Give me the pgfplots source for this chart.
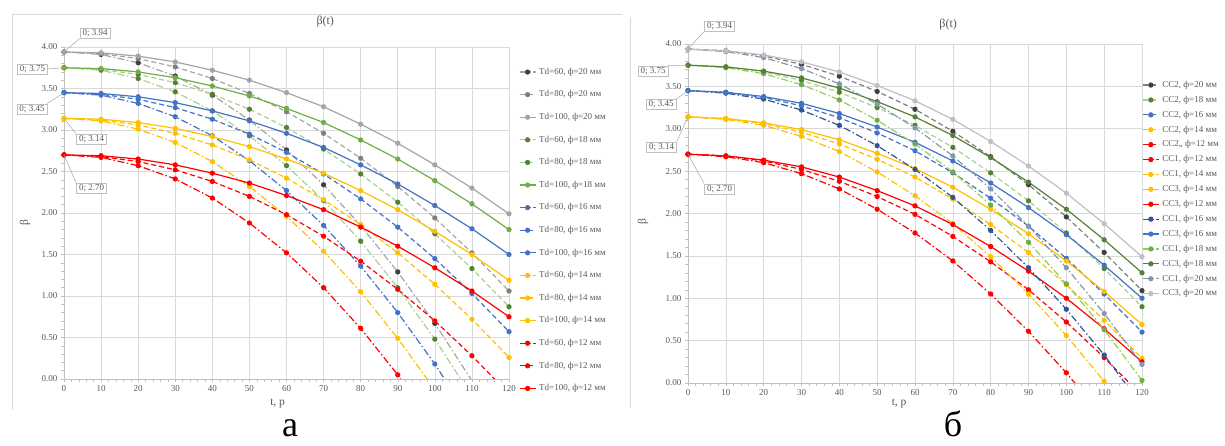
\documentclass[border=0pt]{standalone}
\usepackage{fontspec}
\setmainfont{Liberation Serif}
\usepackage{pgfplots}
\pgfplotsset{compat=1.18}
\definecolor{txt}{HTML}{595959}
\definecolor{gA}{HTML}{A5A5A5}
\definecolor{gD}{HTML}{7F7F7F}
\definecolor{gK}{HTML}{404040}
\definecolor{gL}{HTML}{BFBFBF}
\definecolor{gB}{HTML}{8497B0}
\definecolor{grn}{HTML}{70AD47}
\definecolor{grL}{HTML}{A9D18E}
\definecolor{grD}{HTML}{548235}
\definecolor{grM}{HTML}{92D050}
\definecolor{blu}{HTML}{4472C4}
\definecolor{bluD}{HTML}{2F5597}
\definecolor{yel}{HTML}{FFC000}
\definecolor{rd}{HTML}{FF0000}
\definecolor{gridc}{HTML}{D9D9D9}
\definecolor{axl}{HTML}{BFBFBF}
\newcommand\fs{\fontsize{9}{10}\selectfont}
\tikzset{
 dd/.style={dash pattern=on 7pt off 2.5pt on 1.5pt off 2.5pt},
 ds/.style={dash pattern=on 5pt off 3pt},
 cbox/.style={draw=gL, line width=0.6pt, fill=white, text=txt, font=\fs, inner xsep=2.5pt, inner ysep=1.5pt},
 lead/.style={draw=gA, line width=0.5pt},
}
\pgfplotsset{
 legend image code/.code={\draw[#1, mark repeat=2, mark phase=2] plot coordinates {(0pt,0pt)(8pt,0pt)(16pt,0pt)};},
 S/.style n args={3}{color=#1, #2, line width=1.2pt, mark=*, mark size=2pt, mark options={solid, draw=#3, fill=#3}},
 base/.style={
   scale only axis, xmin=0, xmax=120, ymin=0, ymax=4,
   xtick={0,10,...,120}, ytick={0,0.5,...,4},
   minor x tick num=4, minor y tick num=4,
   axis lines*=left,
   axis line style={draw=axl, line width=0.6pt},
   grid=major, major grid style={draw=gridc, line width=0.6pt},
   tick align=outside, major tick length=3pt, minor tick length=3pt,
   tick style={draw=axl, line width=0.5pt},
   tick label style={font=\fs, text=txt},
   /pgf/number format/assume math mode=true,
   label style={font=\fontsize{11.5}{12}\selectfont, text=txt},
   title style={font=\fontsize{12}{13}\selectfont, text=txt},
   legend cell align=left,
   yticklabel style={/pgf/number format/.cd, fixed, fixed zerofill, precision=2},
 },
}
\begin{document}
\begin{tikzpicture}
\useasboundingbox (0,0) rectangle (1225pt,446pt);
\draw[draw=gridc, line width=0.8pt] (12.7pt,36pt) -- (12.7pt,432pt) -- (622pt,432pt);
\draw[draw=gridc, line width=0.8pt] (630pt,38pt) -- (630pt,429pt);
% ---------------- left panel
\begin{axis}[base, at={(64pt,67pt)}, anchor=south west, width=445pt, height=332pt,
  title={β(t)}, title style={at={(axis description cs:0.587,1)}, anchor=center, yshift=19pt},
  xlabel={t, р}, xlabel style={at={(axis description cs:0.48,0)}, anchor=center, yshift=-24pt},
  ylabel={β}, ylabel style={at={(axis description cs:0,0.47)}, anchor=center, yshift=39pt},
  legend style={at={(axis description cs:1.022,0.938)}, anchor=north west, draw=none, fill=none,
    inner sep=0pt, row sep=14.1pt, nodes={inner xsep=3pt, inner ysep=0pt, text height=6.5pt, text depth=2pt, font=\fs, text=txt}},
]
\addplot[S={gA}{dd}{gK}] coordinates {(0,3.94)(10,3.91)(20,3.81)(30,3.65)(40,3.42)(50,3.12)(60,2.76)(70,2.34)(80,1.85)(90,1.29)(100,0.67)(110,-0.02)};
\addlegendentry{Td=60, ф=20 мм}
\addplot[S={gA}{ds}{gD}] coordinates {(0,3.94)(10,3.92)(20,3.86)(30,3.76)(40,3.62)(50,3.44)(60,3.22)(70,2.96)(80,2.66)(90,2.32)(100,1.94)(110,1.52)(120,1.06)};
\addlegendentry{Td=80, ф=20 мм}
\addplot[S={gA}{solid}{gA}] coordinates {(0,3.94)(10,3.93)(20,3.89)(30,3.82)(40,3.72)(50,3.60)(60,3.45)(70,3.28)(80,3.07)(90,2.84)(100,2.58)(110,2.30)(120,1.99)};
\addlegendentry{Td=100, ф=20 мм}
\addplot[S={grL}{dd}{grD}] coordinates {(0,3.75)(10,3.72)(20,3.62)(30,3.46)(40,3.23)(50,2.93)(60,2.57)(70,2.15)(80,1.66)(90,1.10)(100,0.48)(110,-0.21)};
\addlegendentry{Td=60, ф=18 мм}
\addplot[S={grL}{ds}{grD}] coordinates {(0,3.75)(10,3.73)(20,3.67)(30,3.57)(40,3.43)(50,3.25)(60,3.03)(70,2.77)(80,2.47)(90,2.13)(100,1.75)(110,1.33)(120,0.87)};
\addlegendentry{Td=80, ф=18 мм}
\addplot[S={grn}{solid}{grn}] coordinates {(0,3.75)(10,3.74)(20,3.70)(30,3.63)(40,3.53)(50,3.41)(60,3.26)(70,3.09)(80,2.88)(90,2.65)(100,2.39)(110,2.11)(120,1.80)};
\addlegendentry{Td=100, ф=18 мм}
\addplot[S={blu}{dd}{blu}] coordinates {(0,3.45)(10,3.42)(20,3.32)(30,3.16)(40,2.93)(50,2.63)(60,2.27)(70,1.85)(80,1.36)(90,0.80)(100,0.18)(110,-0.51)};
\addlegendentry{Td=60, ф=16 мм}
\addplot[S={blu}{ds}{blu}] coordinates {(0,3.45)(10,3.43)(20,3.37)(30,3.27)(40,3.13)(50,2.95)(60,2.73)(70,2.47)(80,2.17)(90,1.83)(100,1.45)(110,1.03)(120,0.57)};
\addlegendentry{Td=80, ф=16 мм}
\addplot[S={blu}{solid}{blu}] coordinates {(0,3.45)(10,3.44)(20,3.40)(30,3.33)(40,3.23)(50,3.11)(60,2.96)(70,2.79)(80,2.58)(90,2.35)(100,2.09)(110,1.81)(120,1.50)};
\addlegendentry{Td=100, ф=16 мм}
\addplot[S={yel}{dd}{yel}] coordinates {(0,3.14)(10,3.11)(20,3.01)(30,2.85)(40,2.62)(50,2.32)(60,1.96)(70,1.54)(80,1.05)(90,0.49)(100,-0.13)};
\addlegendentry{Td=60, ф=14 мм}
\addplot[S={yel}{ds}{yel}] coordinates {(0,3.14)(10,3.12)(20,3.06)(30,2.96)(40,2.82)(50,2.64)(60,2.42)(70,2.16)(80,1.86)(90,1.52)(100,1.14)(110,0.72)(120,0.26)};
\addlegendentry{Td=80, ф=14 мм}
\addplot[S={yel}{solid}{yel}] coordinates {(0,3.14)(10,3.13)(20,3.09)(30,3.02)(40,2.92)(50,2.80)(60,2.65)(70,2.48)(80,2.27)(90,2.04)(100,1.78)(110,1.50)(120,1.19)};
\addlegendentry{Td=100, ф=14 мм}
\addplot[S={rd}{dd}{rd}] coordinates {(0,2.70)(10,2.67)(20,2.57)(30,2.41)(40,2.18)(50,1.88)(60,1.52)(70,1.10)(80,0.61)(90,0.05)(100,-0.57)};
\addlegendentry{Td=60, ф=12 мм}
\addplot[S={rd}{ds}{rd}] coordinates {(0,2.70)(10,2.68)(20,2.62)(30,2.52)(40,2.38)(50,2.20)(60,1.98)(70,1.72)(80,1.42)(90,1.08)(100,0.70)(110,0.28)(120,-0.18)};
\addlegendentry{Td=80, ф=12 мм}
\addplot[S={rd}{solid}{rd}] coordinates {(0,2.70)(10,2.69)(20,2.65)(30,2.58)(40,2.48)(50,2.36)(60,2.21)(70,2.04)(80,1.83)(90,1.60)(100,1.34)(110,1.06)(120,0.75)};
\addlegendentry{Td=100, ф=12 мм}
\coordinate (a1) at (axis cs:0,3.94);
\coordinate (a2) at (axis cs:0,3.75);
\coordinate (a3) at (axis cs:0,3.45);
\coordinate (a4) at (axis cs:0,3.14);
\coordinate (a5) at (axis cs:0,2.70);
\end{axis}
% ---------------- right panel
\begin{axis}[base, at={(688pt,63pt)}, anchor=south west, width=454pt, height=339pt,
  title={β(t)}, title style={at={(axis description cs:0.573,1)}, anchor=center, yshift=13pt},
  xlabel={t, р}, xlabel style={at={(axis description cs:0.465,0)}, anchor=center, yshift=-20pt},
  ylabel={β}, ylabel style={at={(axis description cs:0,0.475)}, anchor=center, yshift=45pt},
  legend style={at={(axis description cs:1.0,0.892)}, anchor=north west, draw=none, fill=none,
    inner sep=0pt, row sep=6.4pt, nodes={inner xsep=3pt, inner ysep=0pt, text height=6.5pt, text depth=2pt, font=\fs, text=txt}},
]
\addplot[S={gD}{ds}{gK}] coordinates {(0,3.94)(10,3.92)(20,3.86)(30,3.76)(40,3.62)(50,3.44)(60,3.23)(70,2.97)(80,2.67)(90,2.34)(100,1.96)(110,1.54)(120,1.09)};
\addlegendentry{СС2, ф=20 мм}
\addplot[S={grL}{ds}{grD}] coordinates {(0,3.75)(10,3.73)(20,3.67)(30,3.57)(40,3.43)(50,3.25)(60,3.04)(70,2.78)(80,2.48)(90,2.15)(100,1.77)(110,1.35)(120,0.90)};
\addlegendentry{СС2, ф=18 мм}
\addplot[S={blu}{ds}{blu}] coordinates {(0,3.45)(10,3.43)(20,3.37)(30,3.27)(40,3.13)(50,2.95)(60,2.74)(70,2.48)(80,2.18)(90,1.85)(100,1.47)(110,1.05)(120,0.60)};
\addlegendentry{СС2, ф=16 мм}
\addplot[S={yel}{ds}{yel}] coordinates {(0,3.14)(10,3.12)(20,3.06)(30,2.96)(40,2.82)(50,2.64)(60,2.43)(70,2.17)(80,1.87)(90,1.54)(100,1.16)(110,0.74)(120,0.29)};
\addlegendentry{СС2, ф=14 мм}
\addplot[S={rd}{ds}{rd}] coordinates {(0,2.70)(10,2.68)(20,2.62)(30,2.52)(40,2.38)(50,2.20)(60,1.99)(70,1.73)(80,1.43)(90,1.10)(100,0.72)(110,0.30)(120,-0.15)};
\addlegendentry{СС2,, ф=12 мм}
\addplot[S={rd}{dd}{rd}] coordinates {(0,2.70)(10,2.67)(20,2.60)(30,2.47)(40,2.29)(50,2.05)(60,1.77)(70,1.44)(80,1.05)(90,0.61)(100,0.12)(110,-0.42)};
\addlegendentry{СС1, ф=12 мм}
\addplot[S={yel}{dd}{yel}] coordinates {(0,3.14)(10,3.11)(20,3.04)(30,2.91)(40,2.73)(50,2.49)(60,2.21)(70,1.88)(80,1.49)(90,1.05)(100,0.56)(110,0.02)(120,-0.58)};
\addlegendentry{СС1, ф=14 мм}
\addplot[S={yel}{solid}{yel}] coordinates {(0,3.14)(10,3.12)(20,3.07)(30,2.99)(40,2.87)(50,2.71)(60,2.53)(70,2.31)(80,2.05)(90,1.76)(100,1.44)(110,1.08)(120,0.69)};
\addlegendentry{СС3, ф=14 мм}
\addplot[S={rd}{solid}{rd}] coordinates {(0,2.70)(10,2.68)(20,2.63)(30,2.55)(40,2.43)(50,2.27)(60,2.09)(70,1.87)(80,1.61)(90,1.32)(100,1.00)(110,0.64)(120,0.25)};
\addlegendentry{СС3, ф=12 мм}
\addplot[S={bluD}{dd}{bluD}] coordinates {(0,3.45)(10,3.42)(20,3.35)(30,3.22)(40,3.04)(50,2.80)(60,2.52)(70,2.19)(80,1.80)(90,1.36)(100,0.87)(110,0.33)(120,-0.27)};
\addlegendentry{СС1, ф=16 мм}
\addplot[S={blu}{solid}{blu}] coordinates {(0,3.45)(10,3.43)(20,3.38)(30,3.30)(40,3.18)(50,3.02)(60,2.84)(70,2.62)(80,2.36)(90,2.07)(100,1.75)(110,1.39)(120,1.00)};
\addlegendentry{СС3, ф=16 мм}
\addplot[S={grM}{dd}{grn}] coordinates {(0,3.75)(10,3.72)(20,3.65)(30,3.52)(40,3.34)(50,3.10)(60,2.82)(70,2.49)(80,2.10)(90,1.66)(100,1.17)(110,0.63)(120,0.03)};
\addlegendentry{СС1, ф=18 мм}
\addplot[S={grD}{solid}{grD}] coordinates {(0,3.75)(10,3.73)(20,3.68)(30,3.60)(40,3.48)(50,3.32)(60,3.14)(70,2.92)(80,2.66)(90,2.37)(100,2.05)(110,1.69)(120,1.30)};
\addlegendentry{СС3, ф=18 мм}
\addplot[S={gB}{dd}{gB}] coordinates {(0,3.94)(10,3.91)(20,3.84)(30,3.71)(40,3.53)(50,3.29)(60,3.01)(70,2.68)(80,2.29)(90,1.85)(100,1.36)(110,0.82)(120,0.22)};
\addlegendentry{СС1, ф=20 мм}
\addplot[S={gL}{solid}{gL}] coordinates {(0,3.94)(10,3.92)(20,3.87)(30,3.79)(40,3.67)(50,3.51)(60,3.33)(70,3.11)(80,2.85)(90,2.56)(100,2.24)(110,1.88)(120,1.49)};
\addlegendentry{СС3, ф=20 мм}
\coordinate (b1) at (axis cs:0,3.94);
\coordinate (b2) at (axis cs:0,3.75);
\coordinate (b3) at (axis cs:0,3.45);
\coordinate (b3b) at (axis cs:0,3.14);
\coordinate (b5) at (axis cs:0,2.70);
\end{axis}
% ---------------- callouts left
\node[cbox] (L1) at (95pt,413pt) {0; 3.94};
\node[cbox] (L2) at (32.5pt,377pt) {0; 3.75};
\node[cbox] (L3) at (32pt,337pt) {0; 3.45};
\node[cbox] (L4) at (91.5pt,306.5pt) {0; 3.14};
\node[cbox] (L5) at (91.5pt,257.5pt) {0; 2.70};
\draw[lead] (L1.south west) -- (a1);
\draw[lead] (L2.east) -- (a2);
\draw[lead] (L3.north east) -- (a3);
\draw[lead] (L4.north west) -- (a4);
\draw[lead] (L5.north west) -- (a5);
% ---------------- callouts right
\node[cbox] (R1) at (719.5pt,420pt) {0; 3.94};
\node[cbox] (R2) at (653pt,375pt) {0; 3.75};
\node[cbox] (R3) at (661pt,341.5pt) {0; 3.45};
\node[cbox] (R4) at (661.5pt,299pt) {0; 3.14};
\node[cbox] (R5) at (719.5pt,257pt) {0; 2.70};
\draw[lead] (R1.south west) -- (b1);
\draw[lead] (R2.north east) -- (b2);
\draw[lead] (R3.north east) -- (b3);
\draw[lead] (R4.north east) -- (b3b);
\draw[lead] (R5.north west) -- (b5);
% ---------------- panel letters
\node[font=\fontsize{36}{38}\selectfont, anchor=base, inner sep=0pt] at (290pt,9pt) {а};
\node[font=\fontsize{36}{38}\selectfont, anchor=base, inner sep=0pt] at (953pt,9pt) {б};
\end{tikzpicture}
\end{document}
